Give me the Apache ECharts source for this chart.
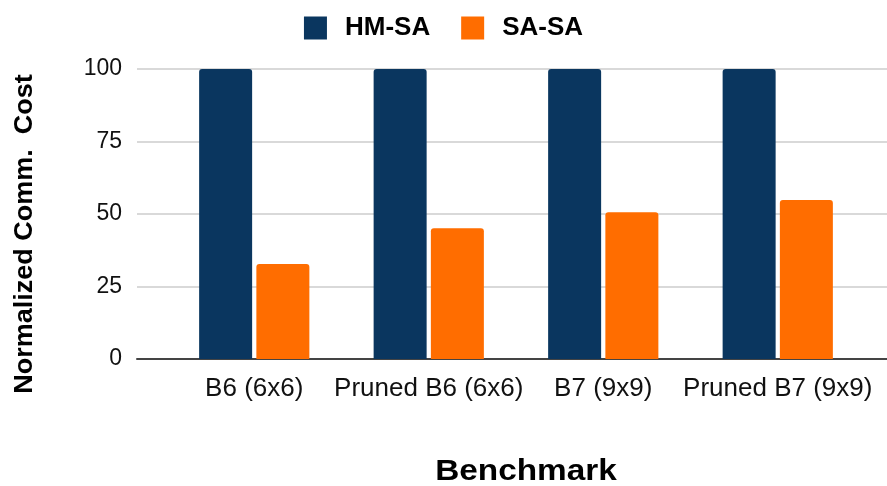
<!DOCTYPE html>
<html>
<head>
<meta charset="utf-8">
<script src="https://cdn.jsdelivr.net/npm/echarts@6/dist/echarts.min.js"></script>
<style>
html, body { margin: 0; padding: 0; background: #fff; }
#chart { width: 887px; height: 486px; }
</style>
</head>
<body>
<div id="chart"></div>
<script>
// data
var categories = ['B6 (6x6)', 'Pruned B6 (6x6)', 'B7 (9x9)', 'Pruned B7 (9x9)'];
var hmSa = [100, 100, 100, 100];
var saSa = [32.8, 45.1, 50.6, 54.8];
var yTicks = [0, 25, 50, 75, 100];

var font = '"Liberation Sans", Arial, sans-serif';
var chart = echarts.init(document.getElementById('chart'));

chart.setOption({
    animation: false,
    backgroundColor: '#fff',
    textStyle: { fontFamily: font },
    legend: {
        top: 10,
        left: 'center',
        itemWidth: 23,
        itemHeight: 23,
        itemGap: 31,
        icon: 'rect',
        itemStyle: { borderRadius: 2 },
        textStyle: { fontSize: 26, fontWeight: 'bold', color: '#000', fontFamily: font, padding: [0, 0, 0, 13] },
        data: ['HM-SA', 'SA-SA']
    },
    // grid 0 carries the gridlines and y labels, grid 1 the bars
    grid: [
        { left: 137, right: 0, top: 69, height: 290 },
        { left: 167, right: 22, top: 69, height: 290 }
    ],
    xAxis: [
        {
            gridIndex: 0, type: 'value', min: 0, max: 1,
            axisLine: { show: true, lineStyle: { color: '#444', width: 2 } },
            axisTick: { show: false }, axisLabel: { show: false }, splitLine: { show: false }
        },
        {
            gridIndex: 1, type: 'category', data: categories,
            axisLine: { show: false }, axisTick: { show: false },
            axisLabel: { margin: 17, fontSize: 26, color: '#111', fontFamily: font, interval: 0 }
        }
    ],
    yAxis: [
        {
            gridIndex: 0, type: 'value', min: yTicks[0], max: yTicks[yTicks.length - 1], interval: 25,
            axisLine: { show: false }, axisTick: { show: false },
            axisLabel: { margin: 15, fontSize: 23, color: '#111', fontFamily: font },
            splitLine: { lineStyle: { color: '#cccccc', width: 1.5 } }
        },
        {
            gridIndex: 1, type: 'value', min: 0, max: 100, show: false
        }
    ],
    graphic: [
        {
            type: 'text', x: 25, y: 234, rotation: Math.PI / 2, scaleX: 1.08,
            style: { text: 'Normalized Comm.  Cost', fontSize: 25, fontWeight: 'bold', fill: '#000',
                     fontFamily: font, align: 'center', verticalAlign: 'middle' }
        },
        {
            type: 'text', x: 526, y: 472, scaleX: 1.15,
            style: { text: 'Benchmark', fontSize: 29, fontWeight: 'bold', fill: '#000',
                     fontFamily: font, align: 'center', verticalAlign: 'middle' }
        }
    ],
    series: [
        {
            name: 'HM-SA', type: 'bar', xAxisIndex: 1, yAxisIndex: 1,
            data: hmSa, barWidth: 53, barGap: '8%',
            itemStyle: { color: '#0a365f', borderRadius: [3, 3, 0, 0] }
        },
        {
            name: 'SA-SA', type: 'bar', xAxisIndex: 1, yAxisIndex: 1,
            data: saSa, barWidth: 53,
            itemStyle: { color: '#ff6d00', borderRadius: [3, 3, 0, 0] }
        }
    ]
});
</script>
</body>
</html>
